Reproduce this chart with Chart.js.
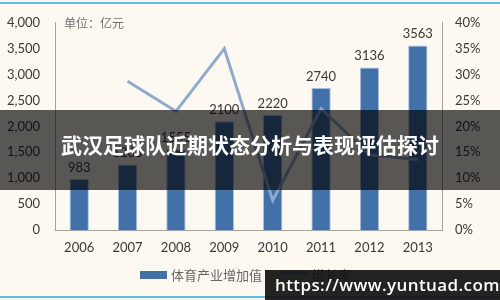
<!DOCTYPE html>
<html>
<head>
<meta charset="utf-8">
<script src="https://cdn.jsdelivr.net/npm/chart.js@4.4.1/dist/chart.umd.min.js"></script>
<style>
  html, body { margin: 0; padding: 0; }
  body { width: 500px; height: 300px; overflow: hidden; background: #fdf9f0; position: relative; }
  #chart { position: absolute; left: 0; top: 0; }
  .edge { position: absolute; left: 0; width: 500px; height: 2px; background: #62bbe4; }
  #banner { position: absolute; left: 0; top: 110px; width: 500px; height: 80px; background: rgba(0, 0, 0, 0.65); }
  #title { position: absolute; left: 0; top: 130px; width: 500px; text-align: center; color: #fff;
           font: bold 21px "Noto Sans CJK SC", sans-serif; line-height: 28px; }
  #mark { position: absolute; left: 265px; top: 270px; width: 235px; height: 30px; background: rgba(18, 18, 18, 0.93);
          color: #fff; font: 600 17px "Open Sans", sans-serif; line-height: 30px; padding-left: 10px; box-sizing: border-box;
          letter-spacing: 0.4px; }
</style>
</head>
<body>
<canvas id="chart" width="500" height="300"></canvas>
<div class="edge" style="top:2px"></div>
<div class="edge" style="top:296px"></div>
<div id="banner"></div>
<div id="title">武汉足球队近期状态分析与表现评估探讨</div>
<div id="mark">https://www.yuntuad.com</div>
<script>
// 体育产业增加值 (亿元) and 增长率 (%)
const years = ['2006', '2007', '2008', '2009', '2010', '2011', '2012', '2013'];
const addedValue = [983, 1265, 1555, 2100, 2220, 2740, 3136, 3563];
const growthRate = [null, 28.7, 22.9, 35.0, 5.7, 23.4, 14.5, 13.6];
const seriesNames = ['体育产业增加值', '增长率'];
const unitLabel = '单位：亿元';

const BAR_COLOR = '#4270a8';
const LINE_COLOR = '#8eaad0';
const AXIS_COLOR = '#a3a3a3';
const TEXT_COLOR = '#3a3a3a';
const NUM_FONT = 'Lato, "Open Sans", sans-serif';
const CJK_FONT = '"Noto Sans CJK SC", sans-serif';

// value labels above bars, unit note and the legend
const extras = {
  id: 'extras',
  afterDatasetsDraw(chart) {
    const ctx = chart.ctx;
    const meta = chart.getDatasetMeta(1); // bar dataset
    ctx.save();
    ctx.fillStyle = TEXT_COLOR;
    ctx.font = '13px ' + NUM_FONT;
    ctx.textAlign = 'center';
    ctx.textBaseline = 'bottom';
    meta.data.forEach((bar, i) => {
      ctx.fillText(String(addedValue[i]), bar.x, bar.y - 5);
    });

    ctx.fillStyle = '#707070';
    ctx.font = '12px ' + CJK_FONT;
    ctx.textAlign = 'left';
    ctx.textBaseline = 'middle';
    ctx.fillText(unitLabel, chart.chartArea.left + 9, 23);

    // legend
    const ly = 275;
    ctx.fillStyle = BAR_COLOR;
    ctx.fillRect(140, ly - 4, 27, 8);
    ctx.fillStyle = '#666';
    ctx.font = '13px ' + CJK_FONT;
    ctx.fillText(seriesNames[0], 171, ly);
    ctx.strokeStyle = LINE_COLOR;
    ctx.lineWidth = 3;
    ctx.beginPath();
    ctx.moveTo(280, ly - 2);
    ctx.lineTo(309, ly - 2);
    ctx.stroke();
    ctx.fillText(seriesNames[1], 312, ly);
    ctx.restore();
  },
};

new Chart(document.getElementById('chart'), {
  data: {
    labels: years,
    datasets: [
      {
        type: 'line',
        label: seriesNames[1],
        data: growthRate,
        yAxisID: 'y1',
        borderColor: LINE_COLOR,
        borderWidth: 3,
        pointRadius: 0,
        tension: 0,
        order: 0,
      },
      {
        type: 'bar',
        label: seriesNames[0],
        data: addedValue,
        yAxisID: 'y',
        backgroundColor: BAR_COLOR,
        borderColor: '#a6c1e2',
        borderWidth: 1,
        categoryPercentage: 1,
        barPercentage: 0.4,
        order: 1,
      },
    ],
  },
  options: {
    responsive: false,
    animation: false,
    layout: { padding: { top: 17, left: 0, right: 0, bottom: 0 } },
    plugins: { legend: { display: false }, tooltip: { enabled: false } },
    scales: {
      x: {
        grid: { display: false, drawTicks: false },
        border: { color: AXIS_COLOR, width: 1 },
        ticks: { color: TEXT_COLOR, font: { family: NUM_FONT, size: 13 }, padding: 10 },
        afterFit: (s) => { s.height = 70; },
      },
      y: {
        position: 'left',
        min: 0,
        max: 4000,
        grid: { display: false, drawTicks: false },
        border: { color: AXIS_COLOR, width: 1 },
        ticks: { stepSize: 500, color: TEXT_COLOR, font: { family: NUM_FONT, size: 13 }, padding: 15 },
        afterFit: (s) => { s.width = 55; },
      },
      y1: {
        position: 'right',
        min: 0,
        max: 40,
        grid: { display: false, drawTicks: false },
        border: { color: AXIS_COLOR, width: 1 },
        ticks: { stepSize: 5, color: TEXT_COLOR, font: { family: NUM_FONT, size: 13 }, padding: 13, callback: (v) => v + '%' },
        afterFit: (s) => { s.width = 58; },
      },
    },
  },
  plugins: [extras],
});
</script>
</body>
</html>
